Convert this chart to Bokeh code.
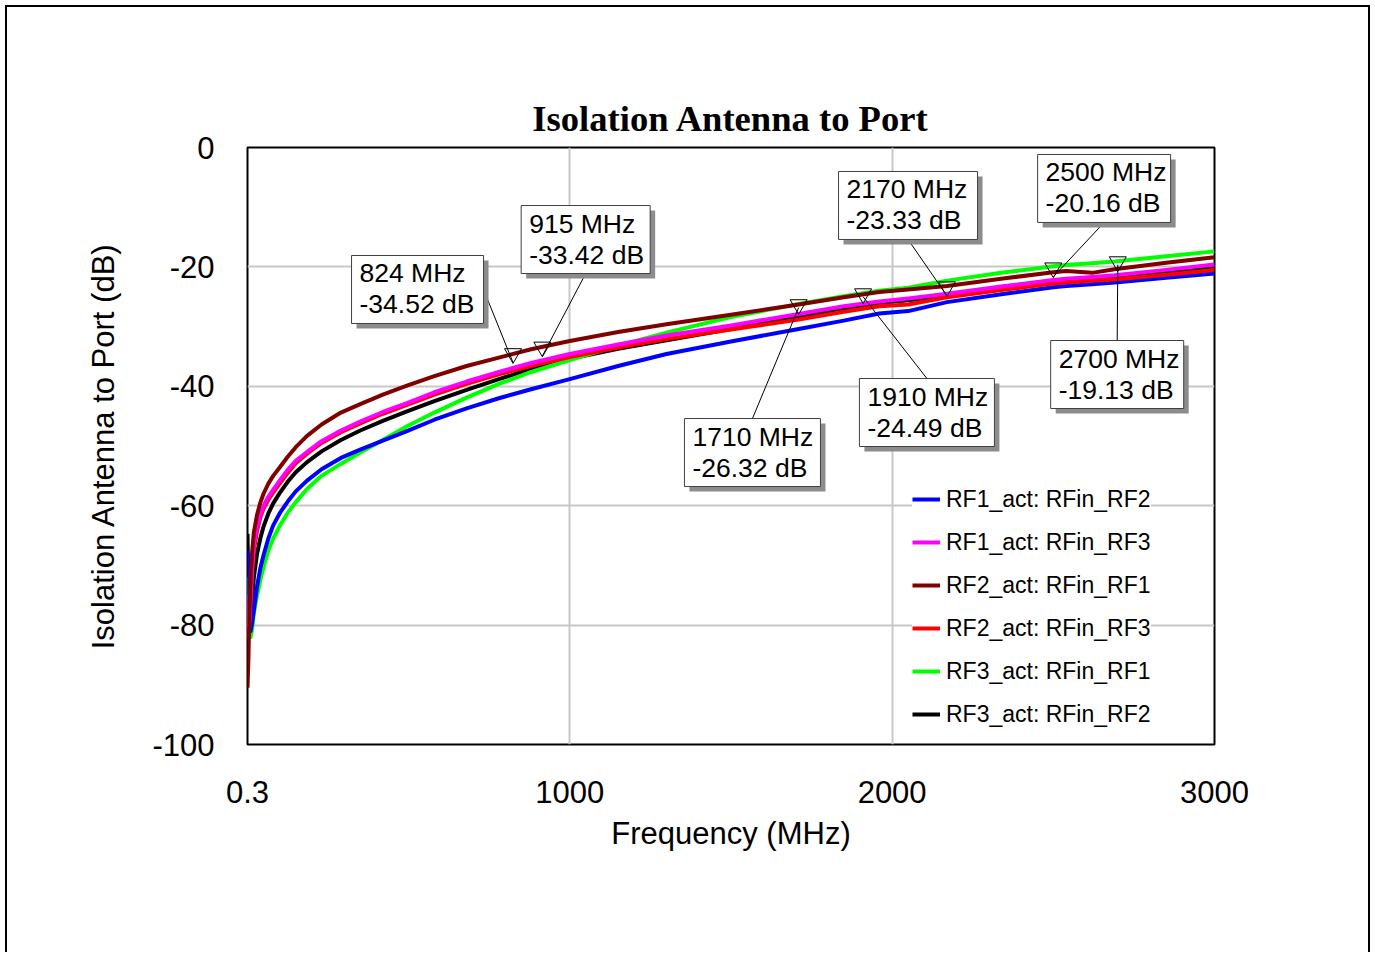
from bokeh.plotting import figure
from bokeh.models import Range1d, FixedTicker, Legend, LegendItem, NumeralTickFormatter
from bokeh.embed import file_html
from bokeh.resources import INLINE
from bokeh.core.properties import value

# ---------------- data ----------------
freq = [0.3, 3, 6, 10, 15, 20, 30, 40, 50, 65, 80, 100, 125, 150, 185, 230, 290, 350, 420, 495,
        580, 680, 780, 880, 1000, 1150, 1300, 1500, 1710, 1850, 1960, 2050, 2170, 2350, 2500,
        2540, 2620, 2690, 2850, 3000]

rf1_rfin_rf2 = [-67.5, -74, -79, -81, -79.5, -77.5, -73.5, -70.5, -68.3, -65.5, -63.3, -61.3, -59.3,
                -57.6, -55.8, -53.9, -52.0, -50.6, -49.1, -47.5, -45.6, -43.7, -42.0, -40.5, -38.8,
                -36.6, -34.6, -32.5, -30.4, -29.0, -27.8, -27.4, -25.9, -24.5, -23.4, -23.2, -22.9,
                -22.6, -21.8, -21.1]
rf1_rfin_rf3 = [-75, -80, -79, -75, -70, -66.5, -63.5, -61.5, -60.0, -58.5, -57.3, -55.8, -54.0,
                -52.5, -51.0, -49.2, -47.4, -45.9, -44.3, -42.8, -41.0, -39.2, -37.6, -36.1, -34.6,
                -33.0, -31.5, -29.8, -27.9, -26.6, -25.8, -25.3, -24.5, -23.2, -22.2, -22.0, -21.7,
                -21.4, -20.5, -19.6]
rf2_rfin_rf1 = [-90.5, -86, -78, -72, -67.5, -64.5, -61.5, -59.5, -58.0, -56.3, -55.0, -53.6, -51.8,
                -50.2, -48.3, -46.4, -44.4, -43.0, -41.4, -39.9, -38.3, -36.6, -35.2, -33.8, -32.4,
                -30.9, -29.6, -28.0, -26.3, -25.1, -24.2, -23.8, -23.2, -21.9, -20.9, -20.7, -21.0,
                -20.4, -19.3, -18.4]
rf2_rfin_rf3 = [-78, -82, -80, -76, -71, -67.5, -64.2, -62.0, -60.5, -59.0, -57.8, -56.3, -54.5,
                -52.9, -51.3, -49.5, -47.7, -46.2, -44.6, -43.1, -41.4, -39.6, -38.0, -36.6, -35.1,
                -33.5, -32.1, -30.5, -28.8, -27.5, -26.6, -26.3, -25.1, -23.8, -22.8, -22.6, -22.3,
                -22.1, -21.3, -20.5]
rf3_rfin_rf1 = [-72, -76, -80, -82, -80.5, -78, -75, -72.5, -70.3, -67.5, -65.5, -63.4, -61.2,
                -59.4, -57.2, -55.0, -53.0, -51.1, -49.0, -46.7, -44.4, -41.9, -39.6, -37.6, -35.6,
                -33.2, -31.0, -28.4, -26.2, -24.9, -24.0, -23.5, -22.3, -20.9, -19.9, -19.7, -19.4,
                -19.1, -18.2, -17.4]
rf3_rfin_rf2 = [-64.7, -74, -79, -79, -75.5, -72, -68, -65.5, -63.5, -61.3, -59.6, -57.9, -56.0,
                -54.4, -52.7, -50.9, -49.0, -47.4, -45.8, -44.2, -42.5, -40.6, -38.8, -37.1, -35.4,
                -33.7, -32.3, -30.4, -28.4, -27.0, -26.0, -25.6, -24.8, -23.3, -22.3, -22.1, -21.9,
                -21.7, -20.8, -20.0]

series_names = ["RF1_act: RFin_RF2", "RF1_act: RFin_RF3", "RF2_act: RFin_RF1",
                "RF2_act: RFin_RF3", "RF3_act: RFin_RF1", "RF3_act: RFin_RF2"]
series_values = [rf1_rfin_rf2, rf1_rfin_rf3, rf2_rfin_rf1, rf2_rfin_rf3, rf3_rfin_rf1, rf3_rfin_rf2]
series_colors = ["#0000ff", "#ff00ff", "#800000", "#ff0000", "#00ff00", "#000000"]
draw_order = [5, 4, 0, 3, 1, 2]

marker_freq = [824, 915, 1710, 1910, 2170, 2500, 2700]
marker_db = [-34.52, -33.42, -26.32, -24.49, -23.33, -20.16, -19.13]

x_ticks = [0.3, 1000, 2000, 3000]
x_tick_labels = ["0.3", "1000", "2000", "3000"]
y_ticks = [0, -20, -40, -60, -80, -100]
y_tick_labels = ["0", "-20", "-40", "-60", "-80", "-100"]

# ---------------- layout / style ----------------
XMIN, XMAX, YMIN, YMAX = 0.3, 3000, -100, 0
FRAME_W, FRAME_H = 967, 597
PPX = FRAME_W / (XMAX - XMIN)
PPY = FRAME_H / (YMAX - YMIN)

def dxf(px):
    return px / PPX

def dyv(px):
    return -px / PPY

box_dx = [-161.5, -21.2, -114.2, -3.7, -108.4, -15.7, -67.1]
box_dy = [-98.1, -141.5, 113.9, 84.8, -115.3, -113.4, 78.8]
box_w = [132, 129, 136, 135, 139, 133, 133]
box_h = 68
attach = ["right", "bottom", "top", "top", "bottom", "bottom", "top"]

FONT = "Liberation Sans"

p = figure(width=1361, height=947, x_range=Range1d(XMIN, XMAX), y_range=Range1d(YMIN, YMAX),
           output_backend="svg", toolbar_location=None, margin=(7, 0, 0, 7),
           min_border_left=240, min_border_right=154, min_border_top=140, min_border_bottom=210,
           background_fill_color="white", border_fill_color="white",
           styles={"box-shadow": "-2px -2px 0 0 black, 2px -2px 0 0 black"})

p.title.text = "Isolation Antenna to Port"
p.title.text_font = "Liberation Serif"
p.title.text_font_style = "bold"
p.title.text_font_size = "36.6px"
p.title.text_color = "black"
p.title.align = "center"
p.title.standoff = 18

p.outline_line_color = "black"
p.outline_line_width = 2

for ax in (p.xaxis[0], p.yaxis[0]):
    ax.axis_line_color = None
    ax.major_tick_line_color = None
    ax.minor_tick_line_color = None
    ax.major_tick_out = 0
    ax.major_tick_in = 0
    ax.minor_tick_out = 0
    ax.minor_tick_in = 0
    ax.major_label_text_font = FONT
    ax.major_label_text_font_size = "31px"
    ax.major_label_text_color = "black"
    ax.axis_label_text_font = FONT
    ax.axis_label_text_font_size = "31px"
    ax.axis_label_text_font_style = "normal"
    ax.axis_label_text_color = "black"

p.xaxis.ticker = FixedTicker(ticks=x_ticks)
p.xaxis.formatter = NumeralTickFormatter(format="0.[0]")
p.xaxis.major_label_overrides = dict(zip(x_ticks, x_tick_labels))
p.xaxis.major_label_standoff = 36
p.xaxis.axis_label = "Frequency (MHz)"
p.xaxis.axis_label_standoff = 10

p.yaxis.ticker = FixedTicker(ticks=y_ticks)
p.yaxis.major_label_overrides = dict(zip(y_ticks, y_tick_labels))
p.yaxis.major_label_standoff = 33
p.yaxis.axis_label = "Isolation Antenna to Port (dB)"
p.yaxis.axis_label_standoff = 28

p.xgrid.ticker = FixedTicker(ticks=[1000, 2000])
p.ygrid.ticker = FixedTicker(ticks=[-20, -40, -60, -80])
for g in (p.xgrid[0], p.ygrid[0]):
    g.grid_line_color = "#c8c8c8"
    g.grid_line_width = 2

renderers = {}
for i in draw_order:
    r = p.line(freq, series_values[i], line_color=series_colors[i], line_width=4,
               line_join="round")
    renderers[i] = r

x0s, y0s, x1s, y1s = [], [], [], []
sh_x, sh_y, bx_x, bx_y, widths = [], [], [], [], []
tx, ty, tt = [], [], []
for k, (f, v) in enumerate(zip(marker_freq, marker_db)):
    left = f + dxf(box_dx[k])
    top = v + dyv(box_dy[k])
    w = box_w[k]
    cx = left + dxf(w / 2)
    cy = top + dyv(box_h / 2)
    if attach[k] == "right":
        sx0, sy0 = left + dxf(w), cy
    elif attach[k] == "bottom":
        sx0, sy0 = cx, top + dyv(box_h)
    else:
        sx0, sy0 = cx, top
    end_off = 9 if attach[k] in ("right", "bottom") else 3
    x0s.append(sx0); y0s.append(sy0)
    x1s.append(f); y1s.append(v + dyv(end_off))
    sh_x.append(cx + dxf(5)); sh_y.append(cy + dyv(5))
    bx_x.append(cx); bx_y.append(cy); widths.append(w)
    tx += [left + dxf(8), left + dxf(8)]
    ty += [top + dyv(18), top + dyv(49)]
    tt += ["%d MHz" % f, "%.2f dB" % v]

p.segment(x0=x0s, y0=y0s, x1=x1s, y1=y1s, line_color="black", line_width=1)
p.scatter(x=marker_freq, y=marker_db, marker="inverted_triangle", size=17,
          fill_color=None, line_color="black", line_width=1)
p.rect(x=sh_x, y=sh_y, width=widths, height=box_h, width_units="screen", height_units="screen",
       fill_color="#8c8c8c", line_color=None)
p.rect(x=bx_x, y=bx_y, width=widths, height=box_h, width_units="screen", height_units="screen",
       fill_color="white", line_color="#404040", line_width=1)
p.text(x=tx, y=ty, text=tt, text_font=value(FONT), text_font_size="26.5px",
       text_baseline="middle", text_align="left", text_color="black")

legend = Legend(items=[LegendItem(label=series_names[i], renderers=[renderers[i]]) for i in range(6)],
                location=(665, 15), orientation="vertical",
                background_fill_color="white", background_fill_alpha=1.0,
                border_line_color=None, padding=4, margin=0, spacing=13,
                glyph_width=28, glyph_height=30, label_height=30, label_standoff=6,
                label_text_font=FONT, label_text_font_size="23px", label_text_color="black")
p.add_layout(legend)

open("out.html", "w").write(file_html(p, INLINE))
